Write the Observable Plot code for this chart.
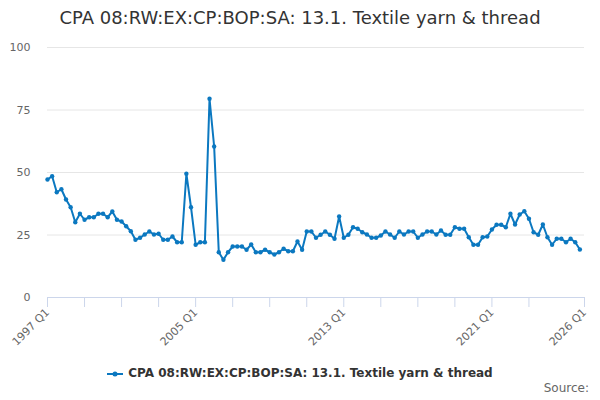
<!DOCTYPE html>
<html><head><meta charset="utf-8">
<script src="https://cdn.jsdelivr.net/npm/d3@7"></script>
<script src="https://cdn.jsdelivr.net/npm/@observablehq/plot@0.6"></script>
<style>
body{margin:0;background:#fff;font-family:"DejaVu Sans",sans-serif;}
#wrap{position:relative;width:600px;height:400px;overflow:hidden;}
#title{position:absolute;top:0;left:0;width:600px;text-align:center;font-size:18px;color:#333;line-height:36px;}
#chart{position:absolute;top:36px;left:0;}
#legend{position:absolute;top:365px;left:0;width:600px;text-align:center;font-size:12px;font-weight:bold;color:#333;line-height:16px;}
#legend svg{vertical-align:middle;margin-right:5px;}
#source{position:absolute;top:381px;right:11px;font-size:12px;color:#666;}
</style></head>
<body>
<div id="wrap">
  <div id="title"></div>
  <div id="chart"></div>
  <div id="legend"></div>
  <div id="source">Source:</div>
</div>
<script>
const seriesName = "CPA 08:RW:EX:CP:BOP:SA: 13.1. Textile yarn & thread";
const startYear = 1997;
const values = [
  47.2, 48.5, 42.1, 43.3,
  39.2, 36.1, 30.1, 33.5,
  31.1, 32.1, 32.1, 33.5,
  33.5, 32.1, 34.4, 31.1,
  30.4, 28.5, 26.5, 23.1,
  23.9, 25.2, 26.4, 25.2,
  25.5, 23.1, 23.1, 24.4,
  22.1, 22.1, 49.5, 36.1,
  21.1, 22.1, 22.1, 79.5,
  60.4, 18.1, 15.1, 18.1,
  20.4, 20.4, 20.4, 19.1,
  21.2, 18.1, 18.1, 19.1,
  18.1, 17.2, 18.1, 19.5,
  18.5, 18.5, 22.4, 19.1,
  26.4, 26.4, 23.9, 25.1,
  26.4, 25.1, 23.5, 32.4,
  23.9, 25.1, 28.1, 27.5,
  26.1, 25.2, 23.9, 23.9,
  24.8, 26.4, 25.2, 23.9,
  26.4, 25.2, 26.4, 26.4,
  23.9, 25.2, 26.4, 26.4,
  25.2, 26.8, 25.1, 25.1,
  28.1, 27.5, 27.5, 24.1,
  21.1, 21.1, 24.1, 24.4,
  27.2, 29.1, 29.1, 28.1,
  33.5, 29.2, 33.2, 34.5,
  31.5, 26.1, 25.1, 29.2,
  24.1, 21.1, 23.5, 23.5,
  22.1, 23.5, 22.1, 19.2
];
const yTicks = [0, 25, 50, 75, 100];
const xTickYears = [1997, 1999, 2001, 2003, 2005, 2007, 2009, 2011, 2013, 2015, 2017, 2019, 2021, 2023, 2026];
const xLabelYears = [1997, 2005, 2013, 2021, 2026];
const color = "#0b78c0";

const data = values.map((v, i) => ({
  t: startYear + i / 4,
  label: `${startYear + Math.floor(i / 4)} Q${(i % 4) + 1}`,
  value: v
}));

document.getElementById("title").textContent = seriesName;
document.getElementById("legend").innerHTML =
  `<svg width="16" height="10"><line x1="0" y1="5" x2="16" y2="5" stroke="${color}" stroke-width="2"/><circle cx="8" cy="5" r="2.5" fill="${color}"/></svg>` +
  `<span>${seriesName.replace(/&/g, "&amp;")}</span>`;

const chart = Plot.plot({
  width: 600,
  height: 324,
  marginTop: 11,
  marginBottom: 63,
  marginLeft: 47,
  marginRight: 16,
  style: {fontFamily: "DejaVu Sans, sans-serif", fontSize: "11px", color: "#666", background: "#fff"},
  x: {domain: [1997, 2026]},
  y: {domain: [0, 100]},
  marks: [
    Plot.ruleY(yTicks.filter(d => d > 0), {stroke: "#e6e6e6", strokeWidth: 1}),
    Plot.axisY({ticks: yTicks, tickSize: 0, tickPadding: 17, fill: "#666", label: null, fontSize: 11}),
    Plot.ruleY([0], {stroke: "#ccd6eb", strokeWidth: 1}),
    Plot.axisX({
      ticks: xTickYears,
      tickSize: 10,
      tickPadding: 3,
      stroke: "#ccd6eb",
      fill: "#666",
      tickRotate: -45,
      fontSize: 11,
      label: null,
      tickFormat: d => xLabelYears.includes(d) ? `${d} Q1` : ""
    }),
    Plot.line(data, {x: "t", y: "value", stroke: color, strokeWidth: 2}),
    Plot.dot(data, {x: "t", y: "value", fill: color, r: 2.2})
  ]
});
document.getElementById("chart").appendChild(chart);
</script>
</body></html>
